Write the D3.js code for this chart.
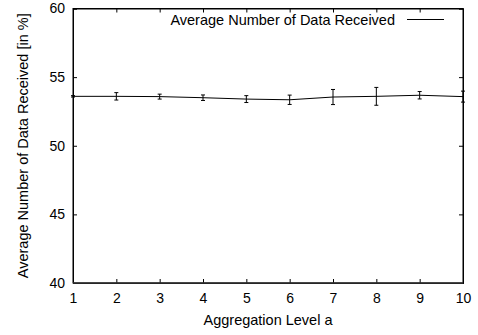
<!DOCTYPE html>
<html>
<head>
<meta charset="utf-8">
<script src="https://cdn.jsdelivr.net/npm/d3@7"></script>
<style>
  body { margin: 0; background: #fff; }
  text { font-family: "Liberation Sans", Arial, sans-serif; }
</style>
</head>
<body>
<div id="container"></div>
<script>
// data
const levels = [1, 2, 3, 4, 5, 6, 7, 8, 9, 10];
const received = [53.6, 53.6, 53.58, 53.5, 53.4, 53.35, 53.55, 53.6, 53.68, 53.58];
const errors = [0.05, 0.27, 0.18, 0.2, 0.25, 0.34, 0.55, 0.65, 0.27, 0.4];
const yTicks = [40, 45, 50, 55, 60];

const W = 478, H = 335;
const margin = {left: 73, right: 15, top: 8.5, bottom: 52};

let svg = d3.select("#container")
  .append("svg")
  .attr("width", W)
  .attr("height", H);

let x = d3.scaleLinear().domain([1, 10]).range([margin.left, W - margin.right]);
let y = d3.scaleLinear().domain([40, 60]).range([H - margin.bottom, margin.top]);

// ticks on all four sides, pointing inward
svg.append("g")
  .attr("transform", "translate(0," + y(40) + ")")
  .call(d3.axisBottom(x).tickValues(levels).tickSize(-4).tickPadding(10).tickFormat(d3.format("d")));
svg.append("g")
  .attr("transform", "translate(0," + y(60) + ")")
  .call(d3.axisTop(x).tickValues(levels).tickSize(-4).tickFormat(""));
svg.append("g")
  .attr("transform", "translate(" + x(1) + ",0)")
  .call(d3.axisLeft(y).tickValues(yTicks).tickSize(-4).tickPadding(8));
svg.append("g")
  .attr("transform", "translate(" + x(10) + ",0)")
  .call(d3.axisRight(y).tickValues(yTicks).tickSize(-4).tickFormat(""));

svg.selectAll(".domain").attr("stroke", "#000");
svg.selectAll(".tick line").attr("stroke", "#000");
svg.selectAll(".tick text")
  .attr("font-size", 14)
  .attr("fill", "#000")
  .style("font-family", "Liberation Sans, Arial, sans-serif");

// frame
svg.append("rect")
  .attr("x", x(1))
  .attr("y", y(60))
  .attr("width", x(10) - x(1))
  .attr("height", y(40) - y(60))
  .attr("fill", "none")
  .attr("stroke", "#000")
  .attr("stroke-width", 1);
svg.append("line")
  .attr("x1", x(1)).attr("x2", x(10))
  .attr("y1", y(40)).attr("y2", y(40))
  .attr("stroke", "#333").attr("stroke-width", 1.6);

let pts = levels.map((d, i) => ({a: d, v: received[i], e: errors[i]}));

// error bars
let eb = svg.append("g").attr("class", "errorbars");
pts.forEach(p => {
  eb.append("line")
    .attr("x1", x(p.a)).attr("x2", x(p.a))
    .attr("y1", y(p.v - p.e)).attr("y2", y(p.v + p.e))
    .attr("stroke", "#000").attr("stroke-width", 1);
  [p.v - p.e, p.v + p.e].forEach(v => {
    eb.append("line")
      .attr("x1", x(p.a) - 2).attr("x2", x(p.a) + 2)
      .attr("y1", y(v)).attr("y2", y(v))
      .attr("stroke", "#000").attr("stroke-width", 1);
  });
});

// the line
svg.append("path")
  .datum(pts)
  .attr("fill", "none")
  .attr("stroke", "#000")
  .attr("stroke-width", 1)
  .attr("d", d3.line().x(d => x(d.a)).y(d => y(d.v)));

// legend
svg.append("text")
  .text("Average Number of Data Received")
  .attr("x", 395)
  .attr("y", 25)
  .attr("text-anchor", "end")
  .attr("font-size", 14.5)
  .attr("fill", "#000");
svg.append("line")
  .attr("x1", 407).attr("x2", 444)
  .attr("y1", 19.5).attr("y2", 19.5)
  .attr("stroke", "#000").attr("stroke-width", 1);

// axis labels
svg.append("text")
  .text("Aggregation Level a")
  .attr("x", (x(1) + x(10)) / 2)
  .attr("y", 325)
  .attr("text-anchor", "middle")
  .attr("font-size", 14.5)
  .attr("fill", "#000");
svg.append("text")
  .text("Average Number of Data Received [in %]")
  .attr("transform", "translate(28," + ((y(40) + y(60)) / 2) + ") rotate(-90)")
  .attr("text-anchor", "middle")
  .attr("font-size", 14.5)
  .attr("fill", "#000");
</script>
</body>
</html>
